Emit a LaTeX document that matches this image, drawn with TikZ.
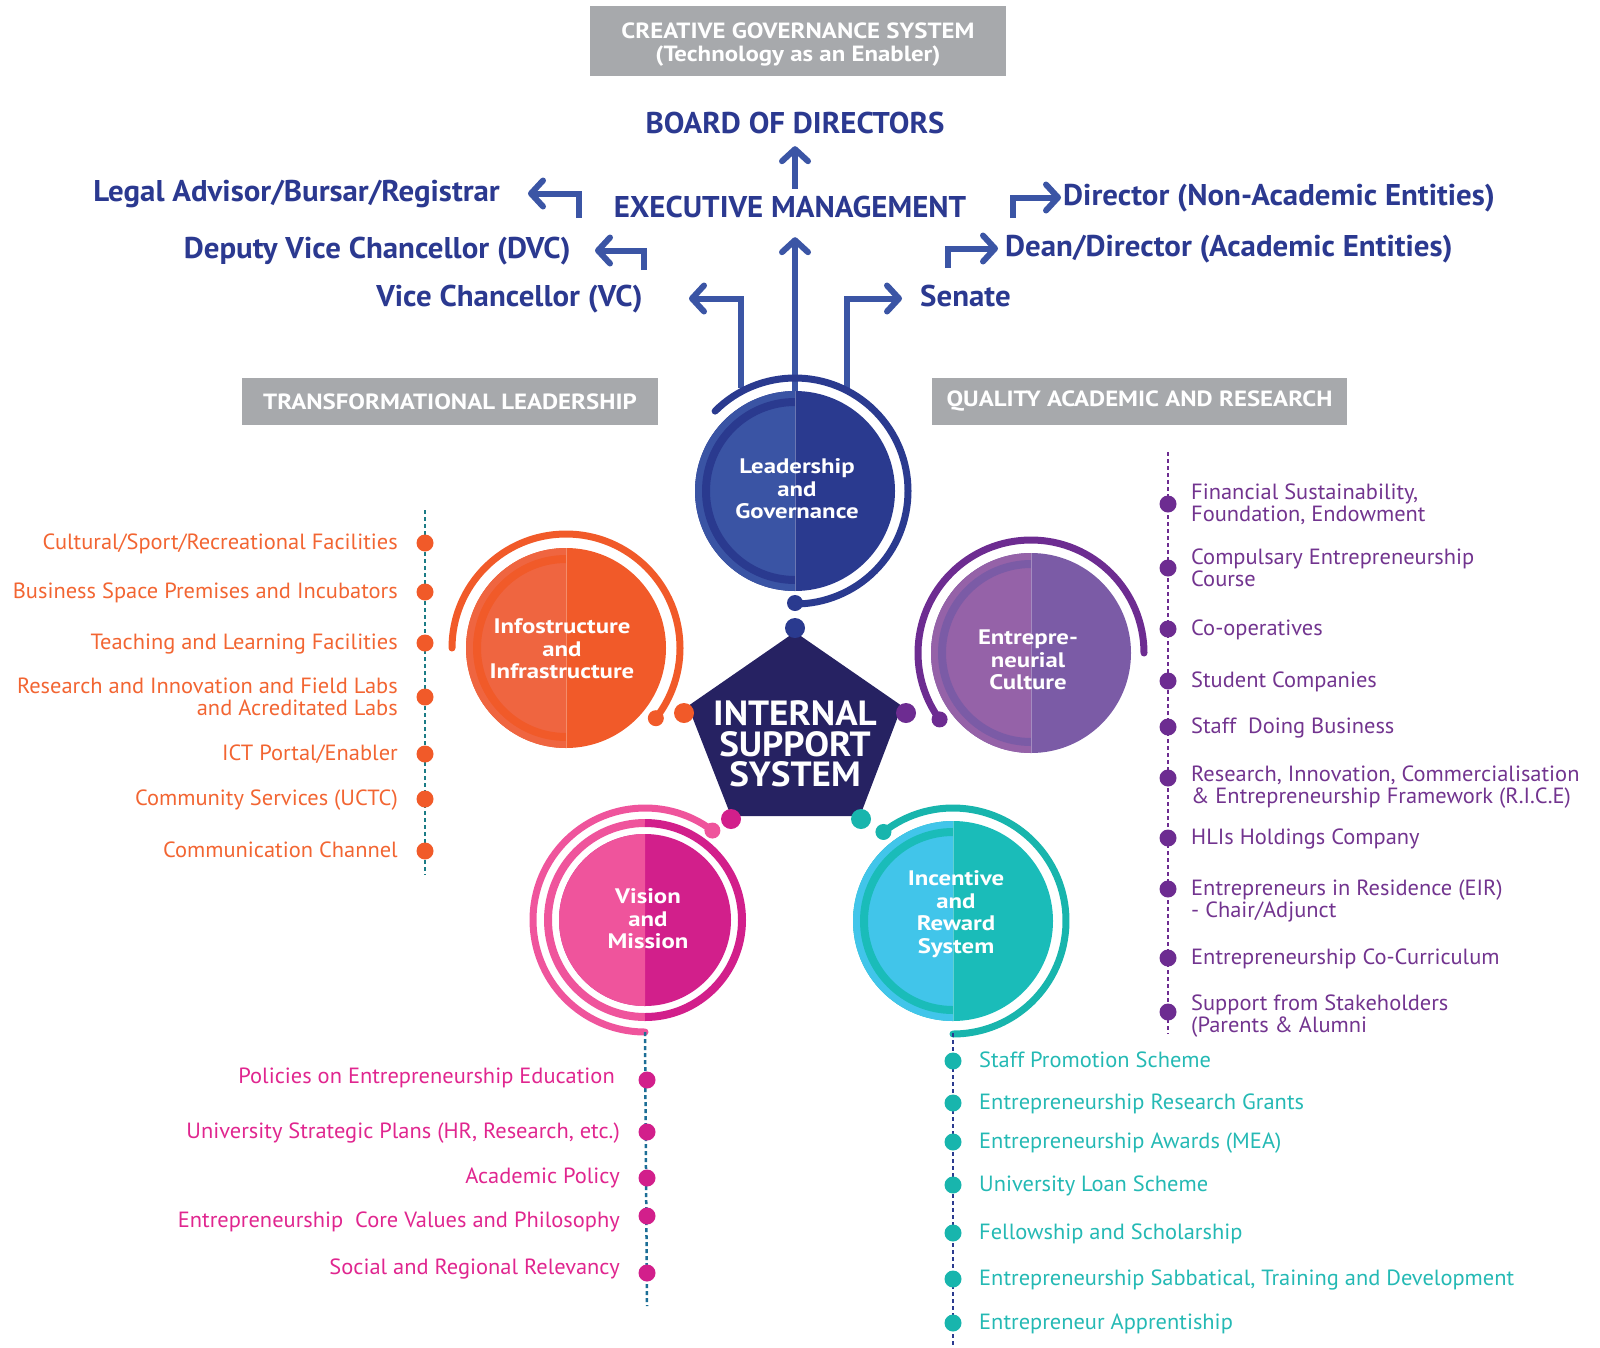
\documentclass[tikz,border=0pt]{standalone}
\usepackage{fontspec}
\setmainfont{PT Sans}
\newfontfamily\hdfont{PT Sans}[FakeStretch=1.03]
\newfontfamily\lsfont{PT Sans}[FakeStretch=1.02]
\newfontfamily\bnfont{PT Sans}[FakeStretch=1.13]
\newfontfamily\ctfont{PT Sans}[FakeStretch=1.18]
\newfontfamily\issfont{PT Sans}[FakeStretch=1.06]
\usetikzlibrary{arrows.meta,calc}

\definecolor{navyT}{HTML}{2B3990}
\definecolor{arrC}{HTML}{3B55A5}
\definecolor{grayB}{HTML}{A7A9AC}
\definecolor{penta}{HTML}{262262}
\definecolor{ldL}{HTML}{3A54A4}
\definecolor{ldR}{HTML}{2A3A8F}
\definecolor{orL}{HTML}{EF6540}
\definecolor{orR}{HTML}{F15A29}
\definecolor{puL}{HTML}{9562A8}
\definecolor{puR}{HTML}{7B5BA6}
\definecolor{puA}{HTML}{6D2C91}
\definecolor{pkL}{HTML}{EF549C}
\definecolor{pkR}{HTML}{D21F8B}
\definecolor{tqL}{HTML}{41C5EA}
\definecolor{tqR}{HTML}{1ABCB9}
\definecolor{tqA}{HTML}{18B5AD}
\definecolor{orTx}{HTML}{F26532}
\definecolor{puTx}{HTML}{72348F}
\definecolor{pkTx}{HTML}{E0268F}
\definecolor{tqTx}{HTML}{24B9B4}
\definecolor{lnOr}{HTML}{1B7C86}
\definecolor{lnPk}{HTML}{1C6E96}
\definecolor{lnTq}{HTML}{2B3A8F}

% disk split in a light left half and a dark right half, with an inner ring
\newcommand\halfdisk[4]{%
  \fill[#4] (#1) circle[radius=#2];
  \fill[#3] (#1) ++(0,#2) arc[start angle=90,end angle=270,radius=#2] -- cycle;
  \draw[#4, line width=8pt] (#1) ++(0,89) arc[start angle=90,end angle=270,radius=89];
  \draw[white, opacity=.3, line width=.8pt] (#1) ++(0,#2) -- ++(0,-2*#2);
}

\begin{document}
\begin{tikzpicture}[x=1pt,y=1pt,
  hd/.style={text=navyT, font=\hdfont\bfseries\fontsize{30}{32}\selectfont,
             inner sep=0, text height=20pt, text depth=5pt},
  banner/.style={fill=grayB, text=white, align=center, inner sep=0,
             font=\bnfont\bfseries\fontsize{22}{23}\selectfont},
  arr/.style={draw=arrC, line width=6pt, -{Straight Barb[length=12pt,width=26pt,round]}},
  outer/.style={line width=7pt, line cap=round},
  ctext/.style={text=white, align=center, inner sep=0,
             font=\ctfont\bfseries\fontsize{21}{22.5}\selectfont},
  lsR/.style={anchor=east, align=right, inner sep=0, yshift=-2pt,
             font=\lsfont\fontsize{22}{22.5}\selectfont},
  lsL/.style={anchor=west, align=left, inner sep=0, yshift=-2pt,
             font=\lsfont\fontsize{22}{22.5}\selectfont},
  dline/.style={line width=2.5pt, dash pattern=on 4pt off 3pt},
  spot/.style={radius=8.5}
]
\useasboundingbox (0,0) rectangle (1600,-1347);

% ---------- governance header ----------
\node[fill=grayB, minimum width=416pt, minimum height=70pt, inner sep=0] (cgsBox) at (798,-41) {};
\node[banner, fill=none] (cgs) at (798,-45)
  {CREATIVE GOVERNANCE SYSTEM\\(Technology as an Enabler)};

\node[hd, anchor=base] (board) at (795,-133) {BOARD OF DIRECTORS};
\node[hd, anchor=base] (exec) at (790,-217) {EXECUTIVE MANAGEMENT};
\node[hd, anchor=base east] (legal) at (500,-201) {Legal Advisor/Bursar/Registrar};
\node[hd, anchor=base east] (dvc) at (571,-258) {Deputy Vice Chancellor (DVC)};
\node[hd, anchor=base east] (vc) at (643,-306) {Vice Chancellor (VC)};
\node[hd, anchor=base west] (senate) at (920,-306) {Senate};
\node[hd, anchor=base west] (dean) at (1005,-256) {Dean/Director (Academic Entities)};
\node[hd, anchor=base west] (dir) at (1063,-205) {Director (Non-Academic Entities)};

% ---------- circle centres ----------
\node[circle, minimum size=200pt, inner sep=0] (lead) at (795,-491) {};
\node[circle, minimum size=200pt, inner sep=0] (info) at (566,-648) {};
\node[circle, minimum size=200pt, inner sep=0] (entr) at (1031,-653) {};
\node[circle, minimum size=200pt, inner sep=0] (visn) at (645,-920) {};
\node[circle, minimum size=200pt, inner sep=0] (incv) at (953,-921) {};

% ---------- arrows ----------
\coordinate (lgFoot) at (579,-218);
\coordinate (dvcFoot) at (644,-270);
\coordinate (vcFoot) at (741,-388);
\coordinate (snFoot) at (847,-388);
\coordinate (deanFoot) at (948,-268);
\coordinate (dirFoot) at (1013,-218);

\draw[arr] ([yshift=8pt]exec.north -| board.south) -- ([yshift=-8pt]board.south);
\draw[arr] (lead.north) -- ($(lead.north |- exec.south)+(0,-15)$);
\draw[arr] (vcFoot) |- ([xshift=46pt]vc.east);
\draw[arr] (snFoot) |- ([xshift=-18pt]senate.west);
\draw[arr] (dvcFoot) |- ([xshift=24pt]dvc.east);
\draw[arr] (lgFoot) |- ([xshift=28pt]legal.east);
\draw[arr] (deanFoot) |- ([xshift=-7pt]dean.west);
\draw[arr] (dirFoot) |- ([xshift=-2pt]dir.west);

% ---------- side banners ----------
\node[banner, minimum width=416pt, minimum height=47pt] (tl) at (450,-401.5) {TRANSFORMATIONAL LEADERSHIP};
\node[banner, minimum width=415pt, minimum height=47pt] (qa) at (1139.5,-401.5) {QUALITY ACADEMIC AND RESEARCH};

% ---------- leadership circle ----------
\halfdisk{lead.center}{100}{ldL}{ldR}
\draw[outer, ldR] (lead.center) ++(135:113) arc[start angle=135,end angle=-90,radius=113];
\fill[ldR] (lead.center) ++(0,-112) circle[radius=8];
\node[ctext] (leadT) at (797,-489) {Leadership\\and\\Governance};

% ---------- infostructure circle ----------
\halfdisk{info.center}{100}{orL}{orR}
\draw[outer, orR] (info.center) ++(180:114) arc[start angle=180,end angle=-38,radius=114];
\fill[orR] (info.center) ++(-38:114) circle[radius=8];
\node[ctext] (infoT) at (562,-649) {Infostructure\\and\\Infrastructure};

% ---------- entrepreneurial circle ----------
\halfdisk{entr.center}{100}{puL}{puR}
\draw[outer, puA] (entr.center) ++(0:113) arc[start angle=0,end angle=216,radius=113];
\fill[puA] (entr.center) ++(216:113) circle[radius=8];
\node[ctext] (entrT) at (1028,-660) {Entrepre-\\neurial\\Culture};

% ---------- vision circle ----------
\fill[pkR] (visn.center) circle[radius=86];
\fill[pkL] (visn.center) ++(0,86) arc[start angle=90,end angle=270,radius=86] -- cycle;
\draw[pkL, line width=8pt] (visn.center) ++(0,97) arc[start angle=90,end angle=270,radius=97];
\draw[pkR, line width=8pt] (visn.center) ++(0,-97) arc[start angle=-90,end angle=90,radius=97];
\draw[outer, pkL] (visn.center) ++(53:112) arc[start angle=53,end angle=270,radius=112];
\fill[pkL] (visn.center) ++(53:112) circle[radius=8];
\node[ctext] (visnT) at (648,-919) {Vision\\and\\Mission};

% ---------- incentive circle ----------
\halfdisk{incv.center}{100}{tqL}{tqR}
\draw[outer, tqA] (incv.center) ++(128:113) arc[start angle=128,end angle=-90,radius=113];
\fill[tqA] (incv.center) ++(128:113) circle[radius=8];
\node[ctext] (incvT) at (956,-914) {Incentive\\and\\Reward\\System};

% ---------- central pentagon ----------
\coordinate (pT) at (795,-632);
\coordinate (pR) at (902,-706);
\coordinate (pBR) at (860,-816);
\coordinate (pBL) at (731,-816);
\coordinate (pL) at (688,-706);
\fill[penta] (pT) -- (pR) -- (pBR) -- (pBL) -- (pL) -- cycle;
\node[text=white, align=center, inner sep=0,
      font=\issfont\bfseries\fontsize{35}{30.5}\selectfont] (iss) at (795,-744)
  {INTERNAL\\SUPPORT\\SYSTEM};
\fill[ldR] (795,-628) circle[radius=10];
\fill[orR] (684,-713) circle[radius=10];
\fill[puA] (906,-713) circle[radius=10];
\fill[pkR] (731,-819) circle[radius=10];
\fill[tqA] (861,-819) circle[radius=10];

% ---------- infrastructure list ----------
\draw[dline, lnOr] (425,-510) -- (425,-875);
\foreach \yy in {543,592,643,697,754,799,851} \fill[orR] (425,-\yy) circle[spot];
\node[lsR, text=orTx] (o1) at (398,-543) {\strut Cultural/Sport/Recreational Facilities};
\node[lsR, text=orTx] (o2) at (398,-592) {\strut Business Space Premises and Incubators};
\node[lsR, text=orTx] (o3) at (398,-643) {\strut Teaching and Learning Facilities};
\node[lsR, text=orTx] (o4) at (398,-698) {\strut Research and Innovation and Field Labs\\\strut and Acreditated Labs};
\node[lsR, text=orTx] (o5) at (398,-754) {\strut ICT Portal/Enabler};
\node[lsR, text=orTx] (o6) at (398,-799) {\strut Community Services (UCTC)};
\node[lsR, text=orTx] (o7) at (398,-851) {\strut Communication Channel};

% ---------- entrepreneurial list ----------
\draw[dline, puA] (1168,-452) -- (1168,-1034);
\foreach \yy in {504,568,629,681,727,778,838,889,958,1012} \fill[puA] (1168,-\yy) circle[spot];
\node[lsL, text=puTx] (e1) at (1191,-504) {\strut Financial Sustainability,\\\strut Foundation, Endowment};
\node[lsL, text=puTx] (e2) at (1191,-569) {\strut Compulsary Entrepreneurship\\\strut Course};
\node[lsL, text=puTx] (e3) at (1191,-629) {\strut Co-operatives};
\node[lsL, text=puTx] (e4) at (1191,-681) {\strut Student Companies};
\node[lsL, text=puTx] (e5) at (1191,-727) {\strut Staff\ \ Doing Business};
\node[lsL, text=puTx] (e6) at (1191,-786) {\strut Research, Innovation, Commercialisation\\\strut \& Entrepreneurship Framework (R.I.C.E)};
\node[lsL, text=puTx] (e7) at (1191,-838) {\strut HLIs Holdings Company};
\node[lsL, text=puTx] (e8) at (1191,-900) {\strut Entrepreneurs in Residence (EIR)\\\strut - Chair/Adjunct};
\node[lsL, text=puTx] (e9) at (1191,-958) {\strut Entrepreneurship Co-Curriculum};
\node[lsL, text=puTx] (e10) at (1191,-1015) {\strut Support from Stakeholders\\\strut (Parents \& Alumni};

% ---------- vision list ----------
\draw[dline, lnPk] (visn.center) ++(0,-112) -- (647,-1306);
\foreach \yy in {1080,1132,1178,1216,1273} \fill[pkR] (647,-\yy) circle[spot];
\node[lsR, text=pkTx] (v1) at (615,-1077) {\strut Policies on Entrepreneurship Education};
\node[lsR, text=pkTx] (v2) at (620,-1132) {\strut University Strategic Plans (HR, Research, etc.)};
\node[lsR, text=pkTx] (v3) at (620,-1177) {\strut Academic Policy};
\node[lsR, text=pkTx] (v4) at (620,-1221) {\strut Entrepreneurship\ \ Core Values and Philosophy};
\node[lsR, text=pkTx] (v5) at (620,-1268) {\strut Social and Regional Relevancy};

% ---------- incentive list ----------
\draw[dline, lnTq] (incv.center) ++(0,-112) -- (953,-1347);
\foreach \yy in {1061,1103,1142,1185,1233,1279,1323} \fill[tqA] (953,-\yy) circle[spot];
\node[lsL, text=tqTx] (r1) at (979,-1061) {\strut Staff Promotion Scheme};
\node[lsL, text=tqTx] (r2) at (979,-1103) {\strut Entrepreneurship Research Grants};
\node[lsL, text=tqTx] (r3) at (979,-1142) {\strut Entrepreneurship Awards (MEA)};
\node[lsL, text=tqTx] (r4) at (979,-1185) {\strut University Loan Scheme};
\node[lsL, text=tqTx] (r5) at (979,-1233) {\strut Fellowship and Scholarship};
\node[lsL, text=tqTx] (r6) at (979,-1279) {\strut Entrepreneurship Sabbatical, Training and Development};
\node[lsL, text=tqTx] (r7) at (979,-1323) {\strut Entrepreneur Apprentiship};
\end{tikzpicture}
\end{document}
